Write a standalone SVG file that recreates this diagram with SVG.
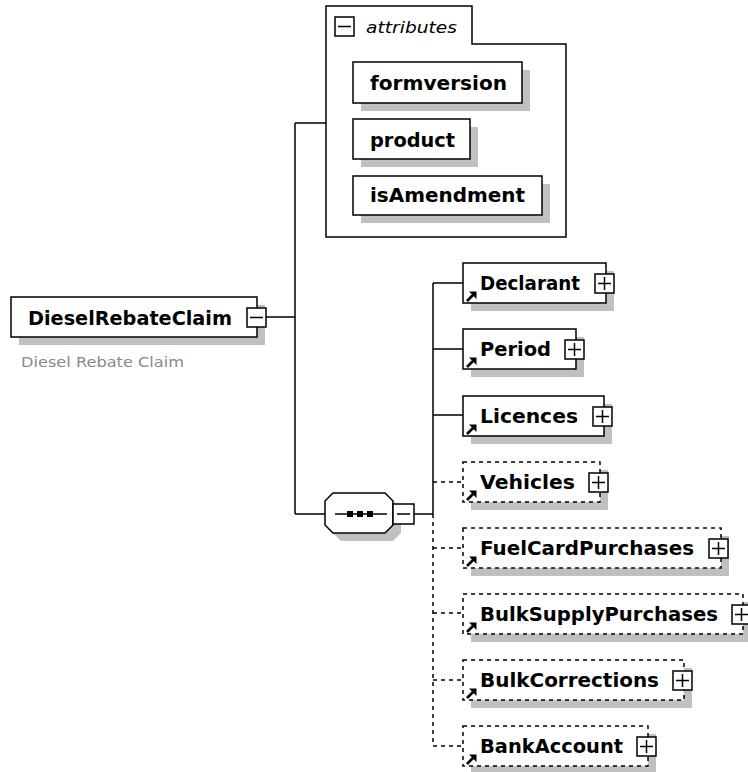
<svg xmlns="http://www.w3.org/2000/svg" width="748" height="772" viewBox="0 0 748 772">
<style>
.box{fill:#fff;stroke:#000;stroke-width:1.5}
.dbox{fill:#fff;stroke:#000;stroke-width:1.5;stroke-dasharray:4 4}
.sh{fill:#c0c0c0}
.ln{fill:none;stroke:#000;stroke-width:1.5}
.dln{fill:none;stroke:#000;stroke-width:1.5;stroke-dasharray:4 4}
.pm{fill:#fff;stroke:#000;stroke-width:1.5}
.lbl{font-family:"DejaVu Sans","Liberation Sans",sans-serif;font-weight:bold;font-size:19px;fill:#000}
.desc{font-family:"DejaVu Sans","Liberation Sans",sans-serif;font-size:14px;fill:#8a8a8a}
.att{font-family:"DejaVu Sans","Liberation Sans",sans-serif;font-style:italic;font-size:16px;fill:#000}
</style>
<defs>
<g id="arr"><path d="M1,10 L7,4" stroke="#000" stroke-width="2.6"/><path d="M3,0.5 H10.5 V8 Z" fill="#000"/></g>
<g id="plus"><rect class="pm" x="0" y="0" width="19" height="19"/><path d="M3,9.5 H16 M9.5,3 V16" stroke="#000" stroke-width="1.5"/></g>
<g id="minus"><rect class="pm" x="0" y="0" width="19" height="19"/><path d="M3,9.5 H16" stroke="#000" stroke-width="1.5"/></g>
</defs>

<g id="connectors">
<path class="ln" d="M266,317 H295 M295,123 V514 M295,123 H326 M295,514 H325"/>
<path class="ln" d="M414,514 H433 M433,283 V514 M433,283 H463 M433,349 H463 M433,415 H463"/>
<path class="dln" d="M433,514 V746 M433,482 H463 M433,548 H463 M433,613 H463 M433,680 H463 M433,746 H463"/>
</g>

<g id="DieselRebateClaim">
<rect class="sh" x="19" y="305" width="246" height="40"/>
<rect class="box" x="11" y="297" width="246" height="40"/>
<text class="lbl" x="28" y="325" textLength="204" lengthAdjust="spacingAndGlyphs">DieselRebateClaim</text>
<use href="#minus" x="247" y="308"/>
<text class="desc" x="21" y="367" textLength="163" lengthAdjust="spacingAndGlyphs">Diesel Rebate Claim</text>
</g>

<g id="attributes">
<path class="ln" fill="#fff" d="M326,6 H472 V44 H566 V237 H326 Z"/>
<use href="#minus" x="335" y="17"/>
<text class="att" x="366" y="33" textLength="91" lengthAdjust="spacingAndGlyphs">attributes</text>
</g>

<g id="formversion">
<rect class="sh" x="361" y="70" width="169" height="41"/>
<rect class="box" x="353" y="62" width="169" height="41"/>
<text class="lbl" x="370" y="90" textLength="137" lengthAdjust="spacingAndGlyphs">formversion</text>
</g>
<g id="product">
<rect class="sh" x="361" y="127" width="117" height="40"/>
<rect class="box" x="353" y="119" width="117" height="40"/>
<text class="lbl" x="370" y="147" textLength="85" lengthAdjust="spacingAndGlyphs">product</text>
</g>
<g id="isAmendment">
<rect class="sh" x="361" y="184" width="189" height="39"/>
<rect class="box" x="353" y="176" width="189" height="39"/>
<text class="lbl" x="370" y="202" textLength="155" lengthAdjust="spacingAndGlyphs">isAmendment</text>
</g>

<g id="sequence">
<path class="sh" d="M341,501 H393 L401,509 V533 L393,541 H341 L333,533 V509 Z"/>
<path class="box" d="M333,493 H385 L393,501 V525 L385,533 H333 L325,525 V501 Z"/>
<path d="M335,514 H387" stroke="#000" stroke-width="1.5"/>
<rect x="347" y="511" width="6" height="6" fill="#000"/>
<rect x="357" y="511" width="6" height="6" fill="#000"/>
<rect x="367" y="511" width="6" height="6" fill="#000"/>
<rect class="pm" x="393" y="504" width="21" height="20"/>
<path d="M397,514 H410" stroke="#000" stroke-width="1.5"/>
</g>

<g id="Declarant">
<rect class="sh" x="471" y="271" width="143" height="40"/>
<rect class="box" x="463" y="263" width="143" height="40"/>
<use href="#arr" x="466" y="291"/>
<text class="lbl" x="480" y="290" textLength="100" lengthAdjust="spacingAndGlyphs">Declarant</text>
<use href="#plus" x="595" y="274"/>
</g>
<g id="Period">
<rect class="sh" x="471" y="337" width="113" height="40"/>
<rect class="box" x="463" y="329" width="113" height="40"/>
<use href="#arr" x="466" y="357"/>
<text class="lbl" x="480" y="356" textLength="71" lengthAdjust="spacingAndGlyphs">Period</text>
<use href="#plus" x="565" y="340"/>
</g>
<g id="Licences">
<rect class="sh" x="471" y="404" width="141" height="40"/>
<rect class="box" x="463" y="396" width="141" height="40"/>
<use href="#arr" x="466" y="424"/>
<text class="lbl" x="480" y="423" textLength="98" lengthAdjust="spacingAndGlyphs">Licences</text>
<use href="#plus" x="593" y="407"/>
</g>
<g id="Vehicles">
<rect class="sh" x="471" y="470" width="137" height="40"/>
<rect class="dbox" x="463" y="462" width="137" height="40"/>
<use href="#arr" x="466" y="490"/>
<text class="lbl" x="480" y="489" textLength="95" lengthAdjust="spacingAndGlyphs">Vehicles</text>
<use href="#plus" x="589" y="473"/>
</g>
<g id="FuelCardPurchases">
<rect class="sh" x="471" y="536" width="258" height="40"/>
<rect class="dbox" x="463" y="528" width="258" height="40"/>
<use href="#arr" x="466" y="556"/>
<text class="lbl" x="480" y="555" textLength="214" lengthAdjust="spacingAndGlyphs">FuelCardPurchases</text>
<use href="#plus" x="709" y="539"/>
</g>
<g id="BulkSupplyPurchases">
<rect class="sh" x="471" y="602" width="280" height="40"/>
<rect class="dbox" x="463" y="594" width="280" height="40"/>
<use href="#arr" x="466" y="622"/>
<text class="lbl" x="480" y="621" textLength="238" lengthAdjust="spacingAndGlyphs">BulkSupplyPurchases</text>
<use href="#plus" x="732" y="605"/>
</g>
<g id="BulkCorrections">
<rect class="sh" x="471" y="668" width="221" height="40"/>
<rect class="dbox" x="463" y="660" width="221" height="40"/>
<use href="#arr" x="466" y="688"/>
<text class="lbl" x="480" y="687" textLength="179" lengthAdjust="spacingAndGlyphs">BulkCorrections</text>
<use href="#plus" x="673" y="671"/>
</g>
<g id="BankAccount">
<rect class="sh" x="471" y="734" width="185" height="40"/>
<rect class="dbox" x="463" y="726" width="185" height="40"/>
<use href="#arr" x="466" y="754"/>
<text class="lbl" x="480" y="753" textLength="143" lengthAdjust="spacingAndGlyphs">BankAccount</text>
<use href="#plus" x="637" y="737"/>
</g>
</svg>
